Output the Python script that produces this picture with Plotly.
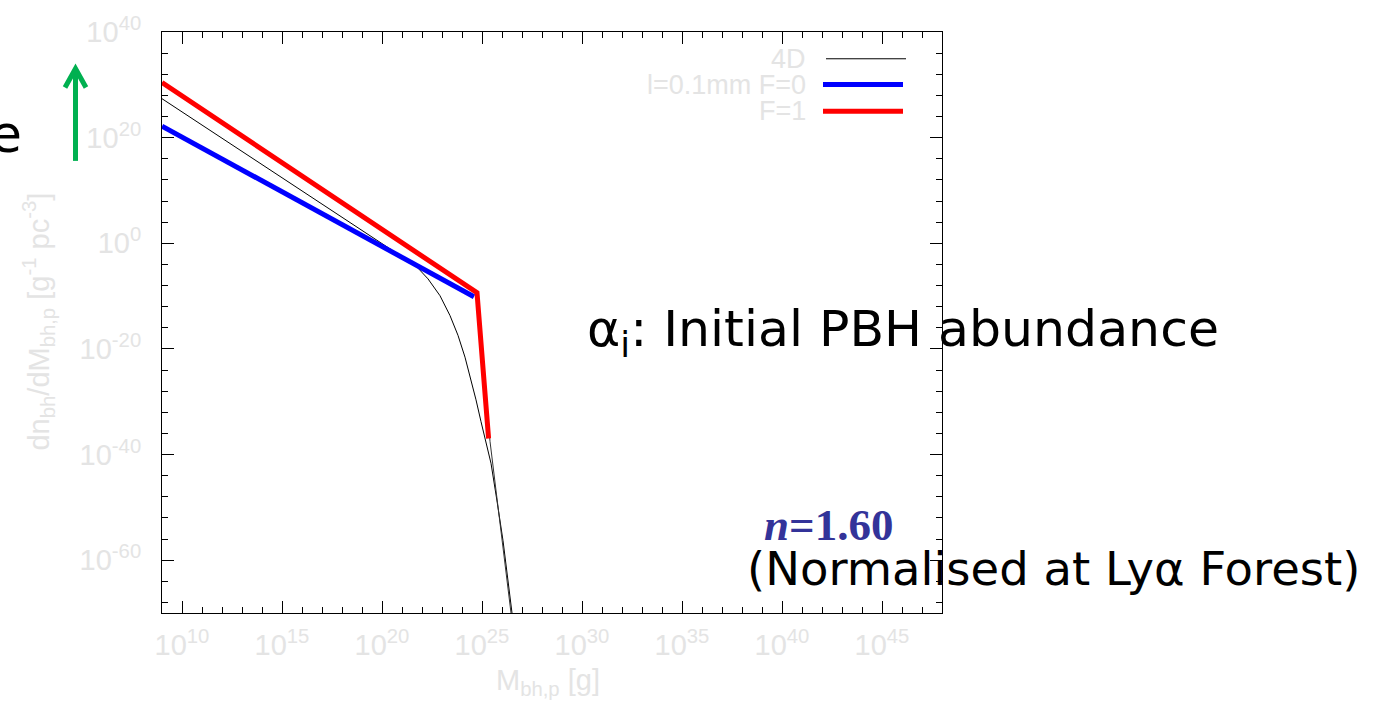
import plotly.graph_objects as go

# ---------------- data (log10 values) ----------------
fourd_log_m = [9.0, 15.4, 19.9, 21.7, 22.3, 22.9, 23.4, 23.8, 24.15, 24.45, 24.7, 24.95, 25.2,
               25.45, 25.75, 26.05, 26.5, 26.55]
fourd_log_n = [27.37, 11.45, 0.26, -4.30, -6.74, -9.93, -13.69, -17.44, -21.57, -25.70, -29.64,
               -33.77, -37.53, -41.66, -48.79, -56.30, -70.0, -71.3]

fourd_b_log_m = [24.8, 25.4, 26.45]
fourd_b_log_n = [-10.5, -37.5, -70.0]

f0_log_m = [9.0, 24.6]
f0_log_n = [22.17, -10.12]

f1_log_m = [9.0, 24.75, 25.33]
f1_log_n = [30.43, -9.37, -36.97]

x_major_exp = [10, 15, 20, 25, 30, 35, 40, 45]
x_minor_exp = list(range(9, 49))
y_major_exp = [-60, -40, -20, 0, 20, 40]
y_minor_exp = list(range(-68, 41, 4))

legend_labels = ["4D", "l=0.1mm F=0", "F=1"]

# ---------------- layout geometry ----------------
W, H = 1375, 701
L, R, T, B = 162, 942, 27, 613


def px2x(px):
    return (px - L) / (R - L)


def py2y(py):
    return (B - py) / (B - T)


def pw(v):
    return [10.0 ** float(e) for e in v]


GRAY = "#e4e4e4"
fig = go.Figure()

fig.add_trace(go.Scatter(x=pw(fourd_log_m), y=pw(fourd_log_n), mode="lines",
                         line=dict(color="black", width=1), showlegend=False))
fig.add_trace(go.Scatter(x=pw(fourd_b_log_m), y=pw(fourd_b_log_n), mode="lines",
                         line=dict(color="#333333", width=1), showlegend=False))
fig.add_trace(go.Scatter(x=pw(f0_log_m), y=pw(f0_log_n), mode="lines",
                         line=dict(color="#0000ff", width=5), showlegend=False))
fig.add_trace(go.Scatter(x=pw(f1_log_m), y=pw(f1_log_n), mode="lines",
                         line=dict(color="#ff0000", width=5), showlegend=False))


def sup(e):
    return "10<sup>%d</sup>" % e


axis_common = dict(type="log", showgrid=False, zeroline=False, showline=True, linecolor="black",
                   linewidth=1, mirror="ticks", ticks="inside", ticklen=12, tickcolor="black",
                   tickwidth=1, tickfont=dict(family="Liberation Sans", size=29, color=GRAY))

fig.update_xaxes(range=[9, 48], tickmode="array", tickvals=pw(x_major_exp),
                 ticktext=[sup(e) for e in x_major_exp], ticklabelstandoff=6,
                 minor=dict(tickmode="array", tickvals=pw(x_minor_exp),
                            ticks="inside", ticklen=6, tickcolor="black", tickwidth=1, showgrid=False),
                 **axis_common)
fig.update_yaxes(range=[-70, 40], tickmode="array", tickvals=pw(y_major_exp),
                 ticktext=[sup(e) for e in y_major_exp], ticklabelstandoff=14,
                 minor=dict(tickmode="array", tickvals=pw(y_minor_exp),
                            ticks="inside", ticklen=6, tickcolor="black", tickwidth=1, showgrid=False),
                 **axis_common)

ann = []
shapes = []


def add_text(px, py, text, font, xanchor="center", **kw):
    ann.append(dict(x=px2x(px), y=py2y(py), xref="paper", yref="paper", showarrow=False,
                    xanchor=xanchor, yanchor="middle", text=text, font=font, **kw))


# axis titles
add_text(548, 683, "M<sub>bh,p</sub> [g]", dict(family="Liberation Sans", size=29, color=GRAY))
add_text(38, 319, "dn<sub>bh</sub>/dM<sub>bh,p</sub> [g<sup>-1</sup> pc<sup>-3</sup>]",
         dict(family="Liberation Sans", size=29, color=GRAY), textangle=-90)

# legend (manual, text left of sample line)
leg_rows = [54, 80, 107]
leg_styles = [("black", 1, 826, 906), ("#0000ff", 5, 823, 903), ("#ff0000", 5, 823, 903)]
for lab, yy, (c, w, x0, x1) in zip(legend_labels, leg_rows, leg_styles):
    add_text(808, yy, lab, dict(family="Liberation Sans", size=27, color=GRAY), xanchor="right")
    shapes.append(dict(type="line", xref="paper", yref="paper", x0=px2x(x0), x1=px2x(x1),
                       y0=py2y(yy), y1=py2y(yy), line=dict(color=c, width=w)))

# overlay slide texts
add_text(24, 130, "e", dict(family="DejaVu Sans", size=52, color="black"), xanchor="right")
add_text(585, 330, "α<sub>i</sub>: Initial PBH abundance",
         dict(family="DejaVu Sans", size=50.5, color="black"), xanchor="left")
add_text(762, 524, "<b><i>n</i>=1.60</b>",
         dict(family="Liberation Serif", size=45, color="#333399"), xanchor="left")
add_text(745, 569, "(Normalised at Lyα Forest)",
         dict(family="DejaVu Sans", size=46.5, color="black"), xanchor="left")

# green arrow
GREEN = "#00b050"
shapes.append(dict(type="line", xref="paper", yref="paper", x0=px2x(75.5), x1=px2x(75.5),
                   y0=py2y(157), y1=py2y(64), line=dict(color=GREEN, width=5)))
shapes.append(dict(type="path", xref="paper", yref="paper",
                   path="M %f,%f L %f,%f L %f,%f" % (px2x(65), py2y(83), px2x(75.5), py2y(64),
                                                     px2x(86), py2y(83)),
                   line=dict(color=GREEN, width=5)))

fig.update_layout(width=W, height=H, margin=dict(l=L, r=W - R, t=T, b=H - B),
                  paper_bgcolor="white", plot_bgcolor="white", showlegend=False,
                  annotations=ann, shapes=shapes)

fig.write_html("out.html")
